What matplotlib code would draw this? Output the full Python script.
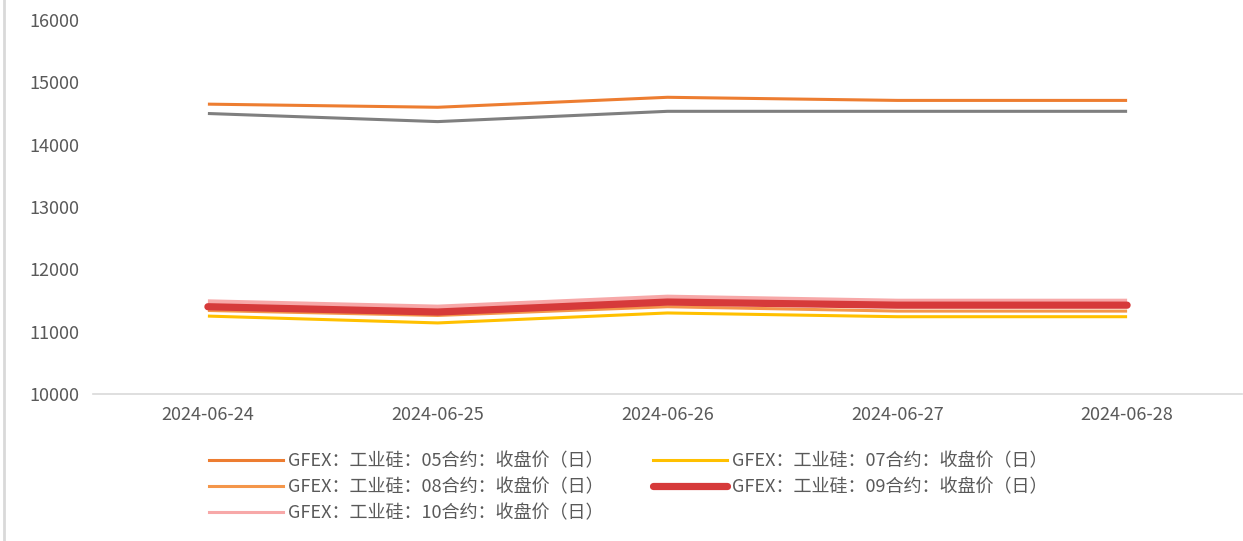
import matplotlib
matplotlib.use("Agg")
import matplotlib.pyplot as plt
from matplotlib.lines import Line2D

plt.rcParams['font.family'] = ['Noto Sans CJK SC', 'DejaVu Sans']

# 数据
dates = ["2024-06-24", "2024-06-25", "2024-06-26", "2024-06-27", "2024-06-28"]
c05 = [14650, 14600, 14760, 14710, 14710]
c06 = [14500, 14370, 14535, 14535, 14535]   # 灰线，图例中无此项
c07 = [11250, 11140, 11300, 11240, 11240]
c08 = [11340, 11260, 11400, 11330, 11330]
c09 = [11400, 11315, 11475, 11425, 11425]
c10 = [11480, 11395, 11555, 11490, 11490]

labels = ["GFEX：工业硅：05合约：收盘价（日）",
          "GFEX：工业硅：07合约：收盘价（日）",
          "GFEX：工业硅：08合约：收盘价（日）",
          "GFEX：工业硅：09合约：收盘价（日）",
          "GFEX：工业硅：10合约：收盘价（日）"]

fig = plt.figure(figsize=(12.43, 5.41), dpi=100)
ax = fig.add_axes([93/1243, 147/541, 1149/1243, 374/541])

x = range(len(dates))
ax.plot(x, c06, color='#7F7F7F', lw=2.2, solid_capstyle='butt')
ax.plot(x, c05, color='#ED7D31', lw=2.2, solid_capstyle='butt', label=labels[0])
ax.plot(x, c07, color='#FFC000', lw=2.2, solid_capstyle='butt', label=labels[1])
ax.plot(x, c08, color='#F4964A', lw=2.2, solid_capstyle='butt', label=labels[2])
ax.plot(x, c10, color='#F7A8A8', lw=3.5, solid_capstyle='butt', label=labels[4])
ax.plot(x, c09, color='#D63A3A', lw=5.2, solid_capstyle='round', label=labels[3])

ax.set_xlim(-0.5, len(dates) - 0.5)
ax.set_ylim(10000, 16000)
ax.set_yticks(range(10000, 16001, 1000))
ax.set_xticks(list(x))
ax.set_xticklabels(dates)

for s in ['top', 'right', 'left']:
    ax.spines[s].set_visible(False)
ax.spines['bottom'].set_color('#D9D9D9')
ax.spines['bottom'].set_linewidth(1.2)
ax.tick_params(axis='both', length=0, labelsize=13, labelcolor='#595959')
ax.tick_params(axis='x', pad=9)
ax.tick_params(axis='y', pad=10)

# 图例：按行排列 05, 07 / 08, 09 / 10
handles = {
    0: Line2D([], [], color='#ED7D31', lw=2.2),
    1: Line2D([], [], color='#FFC000', lw=2.2),
    2: Line2D([], [], color='#F4964A', lw=2.2),
    3: Line2D([], [], color='#D63A3A', lw=5.2, solid_capstyle='round'),
    4: Line2D([], [], color='#F7A8A8', lw=2.2),
}
idx = [0, 2, 4, 1, 3]   # 按列填充 -> 视觉上按行
leg = fig.legend([handles[i] for i in idx], [labels[i] for i in idx], ncol=2,
                 loc='upper left', bbox_to_anchor=(200/1243, 1 - 443/541),
                 frameon=False, fontsize=13, handlelength=4.1, handletextpad=0.3,
                 columnspacing=2.7, labelspacing=0.45, borderpad=0)
for t in leg.get_texts():
    t.set_color('#595959')

fig.add_artist(Line2D([4/1243, 4/1243], [0, 1], color='#D9D9D9', lw=2, transform=fig.transFigure))

fig.savefig("out.png", dpi=100)
